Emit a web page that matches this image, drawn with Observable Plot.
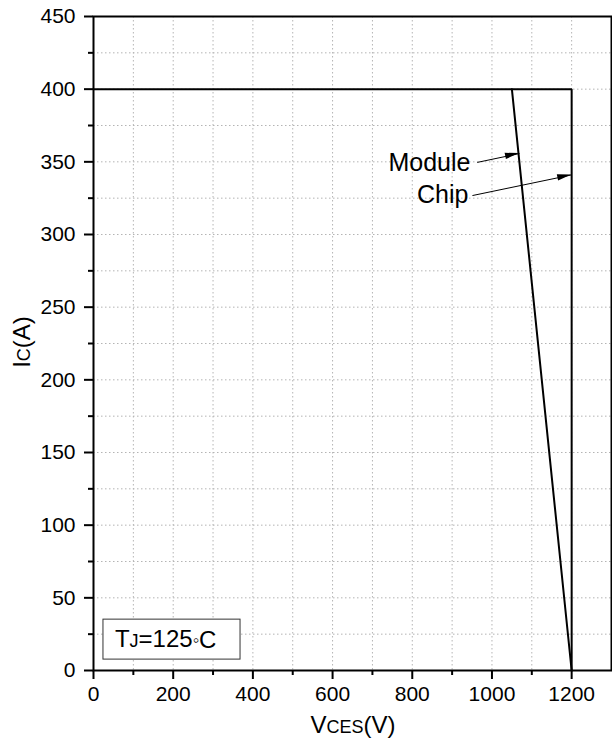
<!DOCTYPE html>
<html><head><meta charset="utf-8">
<script src="https://cdn.jsdelivr.net/npm/d3@7"></script>
<script src="https://cdn.jsdelivr.net/npm/@observablehq/plot@0.6"></script>
<style>body{margin:0;background:#fff}</style>
</head><body><div id="chart"></div>
<script>
// Chip SOA boundary
const chipV = [0, 1200, 1200];
const chipI = [400, 400, 0];
// Module SOA boundary
const moduleV = [1050, 1200];
const moduleI = [400, 0];
// Ticks and grid
const xTicks = [0, 200, 400, 600, 800, 1000, 1200];
const xMinor = [100, 300, 500, 700, 900, 1100];
const yTicks = [0, 50, 100, 150, 200, 250, 300, 350, 400, 450];
const yMinor = [25, 75, 125, 175, 225, 275, 325, 375, 425];
const xGrid = [100, 200, 300, 400, 500, 600, 700, 800, 900, 1000, 1100, 1200];
const yGrid = [25, 50, 75, 100, 125, 150, 175, 200, 225, 250, 275, 300, 325, 350, 375, 400, 425];
// Annotations
const annoText = ["Module", "Chip"];
const annoTextV = [946, 941];
const annoTextI = [349.5, 327];
const arrowFromV = [963, 951];
const arrowFromI = [349.6, 326.8];
const arrowToV = [1069, 1200];
const arrowToI = [355.7, 341];
// Legend box (data units)
const legendBoxV = [25, 369];
const legendBoxI = [7.5, 35];
const legendTextV = 55;
const legendTextI = 21.3;

const line = (vs, is) => vs.map((v, k) => ({v, i: is[k]}));
const annos = annoText.map((t, k) => ({t, x: annoTextV[k], y: annoTextI[k],
  x1: arrowFromV[k], y1: arrowFromI[k], x2: arrowToV[k], y2: arrowToI[k]}));

const font = "'Liberation Sans', Arial, sans-serif";
const plot = Plot.plot({
  width: 612, height: 744,
  marginLeft: 93, marginRight: 1, marginTop: 16, marginBottom: 74,
  x: {domain: [0, 1300]},
  y: {domain: [0, 450]},
  style: {fontFamily: font, fontSize: "21px", color: "black", background: "white"},
  marks: [
    Plot.gridX(xGrid, {stroke: "#b4b4b4", strokeOpacity: 1, strokeDasharray: "1.5,2.5"}),
    Plot.gridY(yGrid, {stroke: "#b4b4b4", strokeOpacity: 1, strokeDasharray: "1.5,2.5"}),
    Plot.rect([0], {x1: () => legendBoxV[0], x2: () => legendBoxV[1], y1: () => legendBoxI[0], y2: () => legendBoxI[1], fill: "white", stroke: "#333", strokeWidth: 1}),
    Plot.axisX(xTicks, {tickSize: 9, tickPadding: 7, strokeWidth: 2, label: null, fontSize: 21, tickFormat: d3.format("d")}),
    Plot.axisX(xMinor, {tickSize: 5, tickFormat: () => "", strokeWidth: 2, label: null}),
    Plot.axisY(yTicks, {tickSize: 9, tickPadding: 9, strokeWidth: 2, label: null, fontSize: 21, tickFormat: d3.format("d")}),
    Plot.axisY(yMinor, {tickSize: 5, tickFormat: () => "", strokeWidth: 2, label: null}),
    Plot.frame({stroke: "black", strokeWidth: 2}),
    Plot.line(line(chipV, chipI), {x: "v", y: "i", stroke: "black", strokeWidth: 2, strokeLinejoin: "miter"}),
    Plot.line(line(moduleV, moduleI), {x: "v", y: "i", stroke: "black", strokeWidth: 2}),
    Plot.link(annos, {x1: "x1", y1: "y1", x2: "x2", y2: "y2", stroke: "black", strokeWidth: 1}),
    Plot.text(annos, {x: "x", y: "y", text: "t", textAnchor: "end", fontSize: 25, fill: "black"})
  ]
});

const svg = d3.select(plot);
const sx = plot.scale("x"), sy = plot.scale("y");
// filled arrowheads from the annotation data through the scales
annos.forEach(a => {
  const x1 = sx.apply(a.x1), y1 = sy.apply(a.y1), x2 = sx.apply(a.x2), y2 = sy.apply(a.y2);
  const dx = x2 - x1, dy = y2 - y1, len = Math.hypot(dx, dy);
  const ux = dx / len, uy = dy / len, L = 14, W = 3.2;
  const bx = x2 - ux * L, by = y2 - uy * L;
  svg.append("polygon")
    .attr("points", [[x2, y2], [bx - uy * W, by + ux * W], [bx + uy * W, by - ux * W]].map(p => p.join(",")).join(" "))
    .attr("fill", "black");
});

// axis titles with smaller subscript letters
const xt = svg.append("text").attr("x", 353).attr("y", 733).attr("text-anchor", "middle")
  .attr("font-family", font).attr("font-size", 24).attr("fill", "black");
xt.append("tspan").text("V");
xt.append("tspan").attr("font-size", 18).text("CES");
xt.append("tspan").text("(V)");

const yt = svg.append("text").attr("transform", "translate(30,342) rotate(-90)").attr("text-anchor", "middle")
  .attr("font-family", font).attr("font-size", 24).attr("fill", "black");
yt.append("tspan").text("I");
yt.append("tspan").attr("font-size", 18).text("C");
yt.append("tspan").text("(A)");

// legend text
const lt = svg.append("text").attr("x", sx.apply(legendTextV)).attr("y", sy.apply(legendTextI)).attr("dy", "0.35em")
  .attr("text-anchor", "start")
  .attr("font-family", font).attr("font-size", 24).attr("fill", "black");
lt.append("tspan").text("T");
lt.append("tspan").attr("font-size", 18).text("J");
lt.append("tspan").text("=125");
lt.append("tspan").attr("font-size", 18).attr("dy", "-0.1em").text("\u25E6");
lt.append("tspan").attr("dy", "0.1em").text("C");

document.getElementById("chart").appendChild(plot);
</script>
</body></html>
